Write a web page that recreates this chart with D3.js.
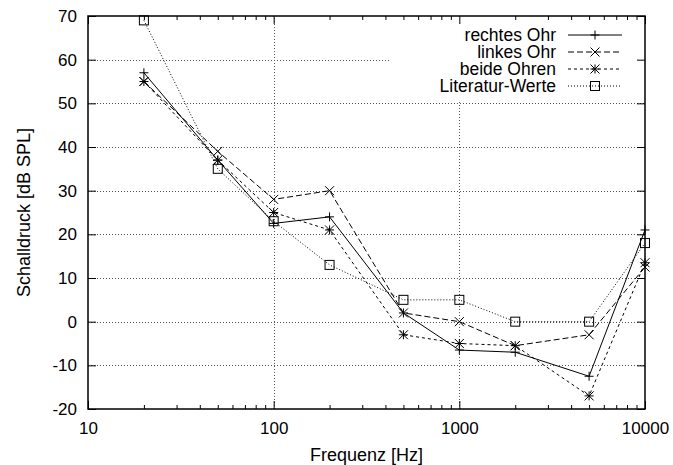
<!DOCTYPE html>
<html><head><meta charset="utf-8">
<script src="https://cdn.jsdelivr.net/npm/d3@7"></script>
<style>body{margin:0;background:#fff}svg{display:block}text{font-family:"Liberation Sans",Arial,sans-serif}</style>
</head><body><div id="chart"></div>
<script>
const freqs = [20, 50, 100, 200, 500, 1000, 2000, 5000, 10000];
const rechtesOhr = [57, 37, 22.5, 24, 2, -6.5, -7, -12.5, 21];
const linkesOhr = [55, 39, 28, 30, 2, 0, -5.5, -3, 12.5];
const beideOhren = [55, 37, 25, 21, -3, -5, -5.5, -17, 13.5];
const literaturWerte = [69, 35, 23, 13, 5, 5, 0, 0, 18];
const seriesNames = ["rechtes Ohr", "linkes Ohr", "beide Ohren", "Literatur-Werte"];
const xMajorTicks = [10, 100, 1000, 10000];
const yTicks = [-20, -10, 0, 10, 20, 30, 40, 50, 60, 70];

const W = 673, H = 465;
const m = {l: 88, r: 28, t: 16, b: 56};
const svg = d3.select("#chart").append("svg").attr("width", W).attr("height", H);
const x = d3.scaleLog().domain([10, 10000]).range([m.l, W - m.r]);
const y = d3.scaleLinear().domain([-20, 70]).range([H - m.b, m.t]);
const xMinor = [];
for (let d = 10; d < 10000; d *= 10) for (let k = 2; k <= 9; k++) xMinor.push(d * k);

// grid
const grid = svg.append("g").attr("stroke", "#555").attr("stroke-width", 1).attr("stroke-dasharray", "1,2");
yTicks.filter(v => v > -20 && v < 70).forEach(v => {
  grid.append("line").attr("x1", x.range()[0]).attr("x2", x.range()[1]).attr("y1", Math.round(y(v)) + 0.5).attr("y2", Math.round(y(v)) + 0.5);
});
[100, 1000].forEach(v => {
  grid.append("line").attr("y1", y.range()[0]).attr("y2", y.range()[1]).attr("x1", Math.round(x(v)) + 0.5).attr("x2", Math.round(x(v)) + 0.5);
});
// legend background blanks grid
svg.append("rect").attr("x", 390).attr("y", m.t).attr("width", W - m.r - 390).attr("height", 85).attr("fill", "#fff");

// axes with inward ticks
function styleAxis(g) { g.select(".domain").remove(); g.selectAll("line").attr("stroke", "#000"); g.selectAll("text").attr("font-size", 17).attr("fill", "#000"); }
const fmt = d => String(d);
svg.append("g").attr("transform", `translate(0,${y.range()[0]})`)
  .call(d3.axisBottom(x).tickValues(xMajorTicks).tickFormat(fmt).tickSize(-8).tickPadding(13)).call(styleAxis);
svg.append("g").attr("transform", `translate(0,${y.range()[0]})`)
  .call(d3.axisBottom(x).tickValues(xMinor).tickFormat("").tickSize(-4)).call(styleAxis);
svg.append("g").attr("transform", `translate(0,${y.range()[1]})`)
  .call(d3.axisTop(x).tickValues(xMajorTicks).tickFormat("").tickSize(-8)).call(styleAxis);
svg.append("g").attr("transform", `translate(0,${y.range()[1]})`)
  .call(d3.axisTop(x).tickValues(xMinor).tickFormat("").tickSize(-4)).call(styleAxis);
svg.append("g").attr("transform", `translate(${x.range()[0]},0)`)
  .call(d3.axisLeft(y).tickValues(yTicks).tickFormat(fmt).tickSize(-8).tickPadding(11)).call(styleAxis);
svg.append("g").attr("transform", `translate(${x.range()[1]},0)`)
  .call(d3.axisRight(y).tickValues(yTicks).tickFormat("").tickSize(-8)).call(styleAxis);
svg.append("rect").attr("x", x.range()[0]).attr("y", y.range()[1]).attr("width", x.range()[1] - x.range()[0]).attr("height", y.range()[0] - y.range()[1])
  .attr("fill", "none").attr("stroke", "#000").attr("stroke-width", 1.5);

// titles
svg.append("text").attr("x", (x.range()[0] + x.range()[1]) / 2).attr("y", 461).attr("text-anchor", "middle").attr("font-size", 18).text("Frequenz [Hz]");
svg.append("text").attr("transform", `translate(30,${(y.range()[0] + y.range()[1]) / 2}) rotate(-90)`).attr("text-anchor", "middle").attr("font-size", 18).text("Schalldruck [dB SPL]");

// series
const series = [
  {name: seriesNames[0], vals: rechtesOhr, dash: null, marker: "plus"},
  {name: seriesNames[1], vals: linkesOhr, dash: "6,3", marker: "cross"},
  {name: seriesNames[2], vals: beideOhren, dash: "3,3", marker: "star"},
  {name: seriesNames[3], vals: literaturWerte, dash: "1,2", marker: "square"}
];
const line = d3.line().x(d => x(d[0])).y(d => y(d[1]));
function marker(g, type, cx, cy) {
  const s = 4.5;
  const p = g.append("g").attr("stroke", "#000").attr("stroke-width", 1).attr("fill", "none");
  if (type === "plus" || type === "star") {
    p.append("line").attr("x1", cx - s).attr("x2", cx + s).attr("y1", cy).attr("y2", cy);
    p.append("line").attr("x1", cx).attr("x2", cx).attr("y1", cy - s).attr("y2", cy + s);
  }
  if (type === "cross" || type === "star") {
    p.append("line").attr("x1", cx - s).attr("x2", cx + s).attr("y1", cy - s).attr("y2", cy + s);
    p.append("line").attr("x1", cx - s).attr("x2", cx + s).attr("y1", cy + s).attr("y2", cy - s);
  }
  if (type === "square") {
    p.append("rect").attr("x", cx - 4.5).attr("y", cy - 4.5).attr("width", 9).attr("height", 9);
  }
}
series.forEach(s => {
  const pts = freqs.map((f, i) => [f, s.vals[i]]);
  svg.append("path").attr("d", line(pts)).attr("fill", "none").attr("stroke", "#000").attr("stroke-width", 1)
    .attr("stroke-dasharray", s.dash);
  pts.forEach(p => marker(svg, s.marker, x(p[0]), y(p[1])));
});

// legend
series.forEach((s, i) => {
  const ly = 35 + i * 17;
  svg.append("text").attr("x", 556).attr("y", ly).attr("dy", "0.35em").attr("text-anchor", "end").attr("font-size", 17.5).text(s.name);
  svg.append("line").attr("x1", 568).attr("x2", 622).attr("y1", ly).attr("y2", ly).attr("stroke", "#000").attr("stroke-width", 1).attr("stroke-dasharray", s.dash);
  marker(svg, s.marker, 595, ly);
});
</script></body></html>
